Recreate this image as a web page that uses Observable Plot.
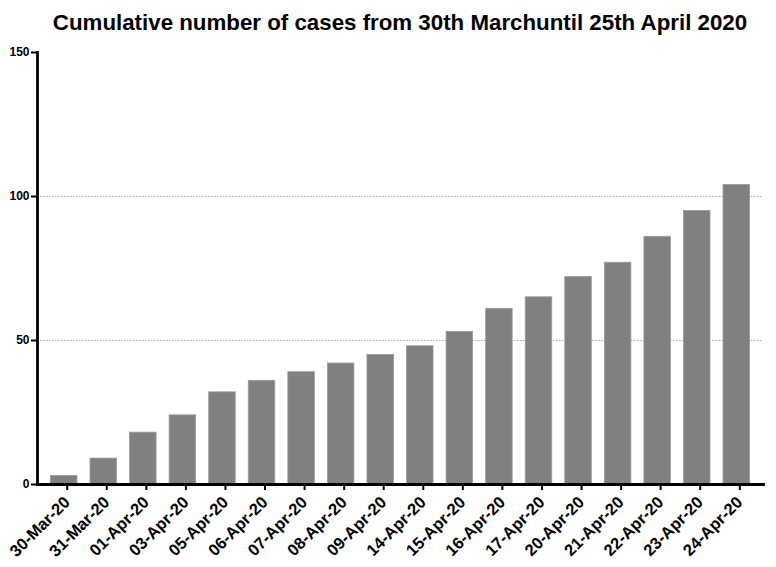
<!DOCTYPE html>
<html><head><meta charset="utf-8">
<script src="https://cdn.jsdelivr.net/npm/d3@7"></script>
<script src="https://cdn.jsdelivr.net/npm/@observablehq/plot@0.6"></script>
<style>
body{margin:0;background:#fff;font-family:"Liberation Sans",Arial,sans-serif}
#title{height:44px;line-height:46px;text-align:center;font-weight:bold;font-size:22.3px;color:#000;padding-left:24px;box-sizing:border-box;white-space:nowrap}
</style></head><body>
<div id="title">Cumulative number of cases from 30th Marchuntil 25th April 2020</div>
<div id="chart"></div>
<script>
const dates = ["30-Mar-20","31-Mar-20","01-Apr-20","03-Apr-20","05-Apr-20","06-Apr-20","07-Apr-20","08-Apr-20","09-Apr-20","14-Apr-20","15-Apr-20","16-Apr-20","17-Apr-20","20-Apr-20","21-Apr-20","22-Apr-20","23-Apr-20","24-Apr-20"];
const cases = [3,9,18,24,32,36,39,42,45,48,53,61,65,72,77,86,95,104];
const yTicks = [0,50,100,150];
const gridValues = [50,100];
const data = dates.map((d,i)=>({date:d, cases:cases[i]}));

const chart = Plot.plot({
  width: 776,
  height: 523,
  marginLeft: 37,
  marginRight: 13,
  marginTop: 8,
  marginBottom: 83,
  style: {fontFamily: '"Liberation Sans", Arial, sans-serif', fontWeight: "bold", color: "#000", background: "#fff"},
  x: {domain: dates, paddingInner: 0.33, paddingOuter: 0.34, round: false, label: null},
  y: {domain: [0,150], label: null},
  marks: [
    Plot.ruleY(gridValues, {stroke: "#aaa", strokeWidth: 1, strokeDasharray: "1.5,1.5"}),
    Plot.barY(data, {x: "date", y: "cases", fill: "#808080", stroke: "#9a9a9a", strokeWidth: 0.8}),
    Plot.axisY({ticks: yTicks, tickSize: 6, tickPadding: 2, strokeWidth: 2, fontSize: 12, label: null}),
    Plot.axisX({tickSize: 6, tickPadding: 9, dx: 3, strokeWidth: 2, tickRotate: -45, fontSize: 16.5, label: null}),
    Plot.frame({anchor: "left", strokeWidth: 2.8}),
    Plot.frame({anchor: "bottom", strokeWidth: 2.8})
  ]
});
document.getElementById("chart").appendChild(chart);
</script>
</body></html>
